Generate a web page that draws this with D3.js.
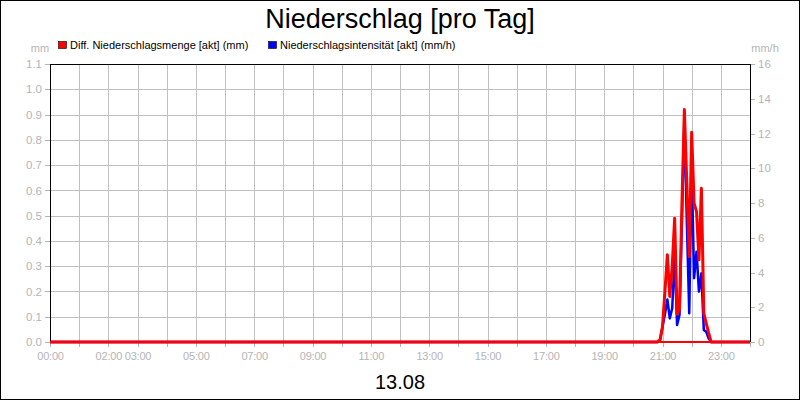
<!DOCTYPE html>
<html>
<head>
<meta charset="utf-8">
<script src="https://cdn.jsdelivr.net/npm/d3@7"></script>
<style>
  body { margin: 0; background: #fff; }
  svg { display: block; font-family: "Liberation Sans", Arial, sans-serif; }
  .grid line { stroke: #c0c0c0; stroke-width: 1; shape-rendering: crispEdges; }
  .axis text { fill: #b4b4b4; font-size: 11.5px; }
  .axis line, .axis path { stroke: #b4b4b4; shape-rendering: crispEdges; }
</style>
</head>
<body>
<div id="wrapper"></div>
<script>
// measurement times (hh:mm) and values
const times = [
  "00:00", "20:50", "20:55", "21:00", "21:05", "21:10", "21:15", "21:20", "21:25",
  "21:30", "21:35", "21:40", "21:45", "21:50", "21:55", "22:00", "22:05", "22:10",
  "22:15", "22:20", "22:25", "22:30", "22:35", "22:40", "22:45", "24:00",
]
const mengeValues = [
  0, 0, 0.01, 0.06, 0.2, 0.345, 0.18, 0.3, 0.49,
  0.11, 0.13, 0.55, 0.92, 0.63, 0.338, 0.83, 0.549, 0.516,
  0.325, 0.608, 0.113, 0.074, 0.035, 0, 0, 0,
]
const intensValues = [
  0, 0, 0.1, 0.88, 1.6, 2.45, 1.36, 1.94, 5.0,
  0.98, 1.55, 7.0, 12.8, 7.0, 1.65, 10.1, 3.67, 5.2,
  2.9, 3.95, 0.69, 0.59, 0.2, 0, 0, 0,
]
const xTickLabels = ["00:00", "02:00", "03:00", "05:00", "07:00", "09:00", "11:00",
  "13:00", "15:00", "17:00", "19:00", "21:00", "23:00"]
const leftTicks = d3.range(0, 12).map(d => d / 10)
const rightTicks = [0, 2, 4, 6, 8, 10, 12, 14, 16]
const seriesNames = ["Diff. Niederschlagsmenge [akt] (mm)", "Niederschlagsintensität [akt] (mm/h)"]
const dateLabel = "13.08"

const toHours = s => { const [h, m] = s.split(":").map(Number); return h + m / 60 }

const dimensions = {
  width: 800,
  height: 400,
  margin: { top: 64, right: 50, bottom: 58, left: 50 },
}
dimensions.boundedWidth = dimensions.width - dimensions.margin.left - dimensions.margin.right
dimensions.boundedHeight = dimensions.height - dimensions.margin.top - dimensions.margin.bottom

const wrapper = d3.select("#wrapper")
  .append("svg")
    .attr("width", dimensions.width)
    .attr("height", dimensions.height)

wrapper.append("rect")
    .attr("x", 0.5).attr("y", 0.5)
    .attr("width", dimensions.width - 1).attr("height", dimensions.height - 1)
    .attr("fill", "#fff").attr("stroke", "#000")

const bounds = wrapper.append("g")
    .attr("transform", `translate(${dimensions.margin.left}, ${dimensions.margin.top})`)

// scales
const xScale = d3.scaleLinear()
  .domain([0, 24])
  .range([0, dimensions.boundedWidth])
const yLeft = d3.scaleLinear()
  .domain([0, 1.1])
  .range([dimensions.boundedHeight, 0])
const yRight = d3.scaleLinear()
  .domain([0, 16])
  .range([dimensions.boundedHeight, 0])

// grid
const grid = bounds.append("g").attr("class", "grid")
grid.selectAll(".v")
  .data(d3.range(1, 24))
  .join("line")
    .attr("x1", d => Math.round(xScale(d)) + 0.5).attr("x2", d => Math.round(xScale(d)) + 0.5)
    .attr("y1", 0).attr("y2", dimensions.boundedHeight)
grid.selectAll(".h")
  .data(leftTicks.slice(1, -1))
  .join("line")
    .attr("x1", 0).attr("x2", dimensions.boundedWidth)
    .attr("y1", d => Math.round(yLeft(d)) + 0.5).attr("y2", d => Math.round(yLeft(d)) + 0.5)

// axes
const xAxis = bounds.append("g")
    .attr("class", "axis")
    .attr("transform", `translate(0, ${dimensions.boundedHeight})`)
    .call(d3.axisBottom(xScale)
      .tickValues(d3.range(0, 25))
      .tickSize(5)
      .tickFormat(d => {
        const label = String(d).padStart(2, "0") + ":00"
        return xTickLabels.includes(label) ? label : ""
      }))
xAxis.select(".domain").remove()
xAxis.selectAll("text").attr("dy", "0.9em").style("font-size", "11px").style("letter-spacing", "-0.2px")

const leftAxis = bounds.append("g")
    .attr("class", "axis")
    .call(d3.axisLeft(yLeft).tickValues(leftTicks).tickSize(5).tickFormat(d3.format(".1f")))
leftAxis.select(".domain").remove()

const rightAxis = bounds.append("g")
    .attr("class", "axis")
    .attr("transform", `translate(${dimensions.boundedWidth}, 0)`)
    .call(d3.axisRight(yRight).tickValues(rightTicks).tickSize(5).tickFormat(d3.format("d")))
rightAxis.select(".domain").remove()

// unit labels
bounds.append("text")
    .attr("x", -10).attr("y", -12)
    .attr("text-anchor", "middle")
    .attr("fill", "#b4b4b4").style("font-size", "11px")
    .text("mm")
bounds.append("text")
    .attr("x", dimensions.boundedWidth + 15).attr("y", -12)
    .attr("text-anchor", "middle")
    .attr("fill", "#b4b4b4").style("font-size", "11px")
    .text("mm/h")

// lines
const points = times.map((t, i) => ({ x: toHours(t), menge: mengeValues[i], intens: intensValues[i] }))

bounds.append("path")
    .datum(points)
    .attr("fill", "none")
    .attr("stroke", "#0000ff")
    .attr("stroke-width", 2.5)
    .attr("stroke-linejoin", "round")
    .attr("d", d3.line().x(d => xScale(d.x)).y(d => yRight(d.intens)))

bounds.append("path")
    .datum(points)
    .attr("fill", "none")
    .attr("stroke", "#ff0000")
    .attr("stroke-width", 3)
    .attr("stroke-linejoin", "round")
    .attr("d", d3.line().x(d => xScale(d.x)).y(d => yLeft(d.menge)))

// frame
bounds.append("rect")
    .attr("x", 0.5).attr("y", 0.5)
    .attr("width", dimensions.boundedWidth).attr("height", dimensions.boundedHeight - 1)
    .attr("fill", "none").attr("stroke", "#000")
    .style("shape-rendering", "crispEdges")

// redraw red baseline over the frame bottom
bounds.append("line")
    .attr("x1", 0).attr("x2", dimensions.boundedWidth)
    .attr("y1", dimensions.boundedHeight).attr("y2", dimensions.boundedHeight)
    .attr("stroke", "#ff0000").attr("stroke-width", 2)

// title, legend, date
wrapper.append("text")
    .attr("x", 400).attr("y", 28)
    .attr("text-anchor", "middle")
    .style("font-size", "27px")
    .text("Niederschlag [pro Tag]")

const legend = wrapper.append("g")
const legendX = [58, 268]
const legendColors = ["#ff0000", "#0000ff"]
legend.selectAll("rect")
  .data(seriesNames)
  .join("rect")
    .attr("x", (d, i) => legendX[i] + 0.5).attr("y", 41.5)
    .attr("width", 8).attr("height", 7)
    .attr("fill", (d, i) => legendColors[i])
    .attr("stroke", "#000").attr("stroke-width", 0.6)
legend.selectAll("text")
  .data(seriesNames)
  .join("text")
    .attr("x", (d, i) => legendX[i] + 12).attr("y", 48.5)
    .style("font-size", "11px")
    .text(d => d)

wrapper.append("text")
    .attr("x", 400).attr("y", 389)
    .attr("text-anchor", "middle")
    .style("font-size", "20px")
    .text(dateLabel)
</script>
</body>
</html>
